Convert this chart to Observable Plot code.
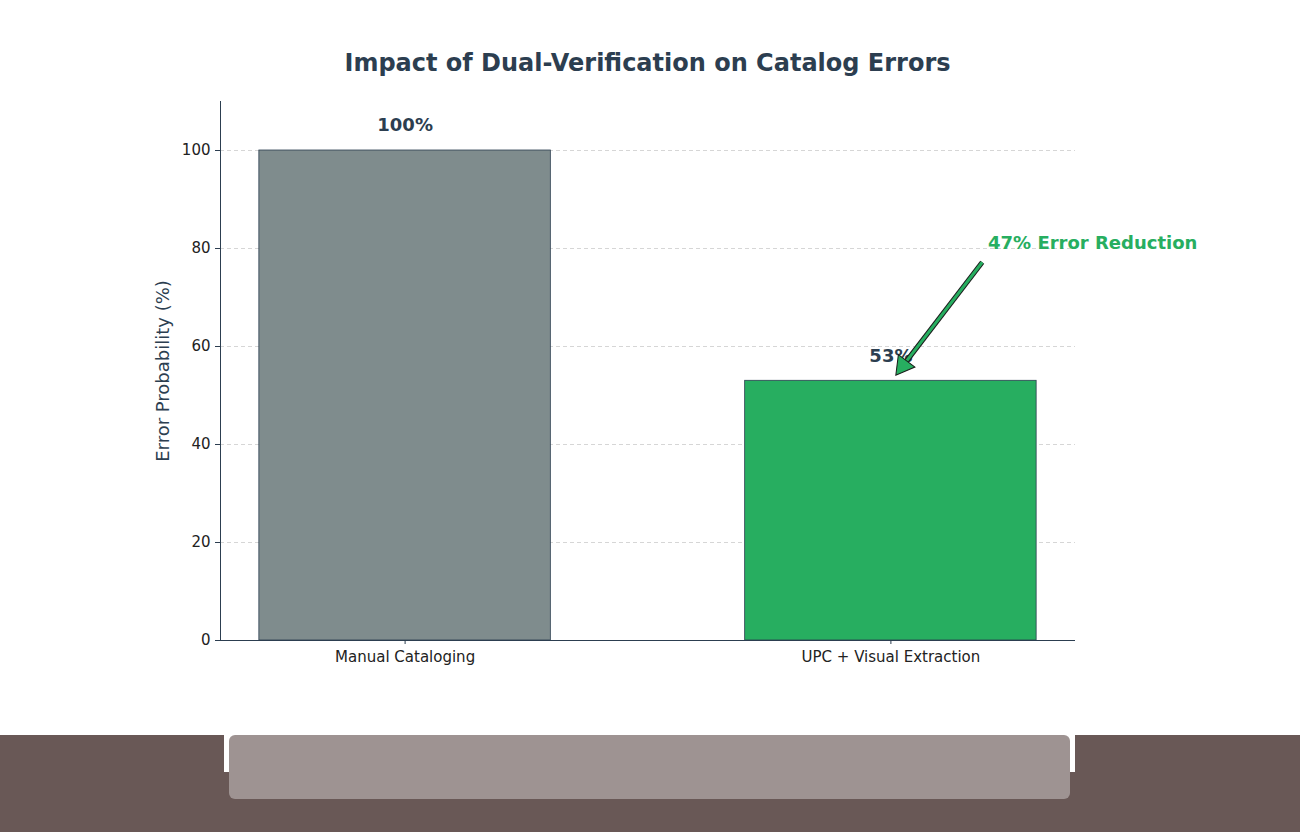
<!DOCTYPE html>
<html>
<head>
<meta charset="utf-8">
<script src="https://cdn.jsdelivr.net/npm/d3@7"></script>
<script src="https://cdn.jsdelivr.net/npm/@observablehq/plot@0.6"></script>
<style>
  html, body { margin: 0; padding: 0; background: #fff; width: 1300px; height: 832px; overflow: hidden; position: relative; font-family: "DejaVu Sans", sans-serif; }
  #title { position: absolute; left: 220px; width: 855px; top: 48px; text-align: center; font-size: 24px; line-height: 30px; font-weight: bold; color: #2c3e50; }
  #chart { position: absolute; left: 0; top: 80px; }
  .band { position: absolute; }
</style>
</head>
<body>
<div id="title">Impact of Dual-Verification on Catalog Errors</div>
<div id="chart"></div>
<div class="band" style="left:0;top:735px;width:1300px;height:97px;background:#695856;"></div>
<div class="band" style="left:224px;top:735px;width:851px;height:37px;background:#ffffff;"></div>
<div class="band" style="left:218px;top:735px;width:6px;height:37px;background:#695856;border-top-right-radius:6px;"></div>
<div class="band" style="left:1075px;top:735px;width:6px;height:37px;background:#695856;border-top-left-radius:6px;"></div>
<div class="band" style="left:229px;top:735px;width:841px;height:64px;background:#9e9392;border-radius:6px;"></div>
<script>
const categories = ["Manual Cataloging", "UPC + Visual Extraction"];
const errorRates = [100, 53];
const barLabels = ["100%", "53%"];
const barColors = ["#7f8c8d", "#27ae60"];
const yTicks = [0, 20, 40, 60, 80, 100];
const annotationText = "47% Error Reduction";
const annotationAt = [1.2, 81];
const arrowStart = [1.188, 77.2];
const arrowHead = [1.025, 56.1];

const bars = categories.map((c, i) => ({i, category: c, value: errorRates[i], label: barLabels[i], color: barColors[i]}));

const plot = Plot.plot({
  width: 1300,
  height: 655,
  marginLeft: 220,
  marginRight: 225,
  marginTop: 21,
  marginBottom: 95,
  style: {fontFamily: "DejaVu Sans, sans-serif", background: "transparent"},
  x: {domain: [-0.38, 1.38]},
  y: {domain: [0, 110]},
  color: {type: "identity"},
  marks: [
    Plot.gridY(yTicks.filter(t => t > 0), {stroke: "#cccccc", strokeOpacity: 1, strokeDasharray: "4,3", strokeWidth: 0.8}),
    Plot.rectY(bars, {x1: d => d.i - 0.3, x2: d => d.i + 0.3, y1: 0, y2: "value", fill: "color", stroke: "#2c3e50", strokeWidth: 0.8}),
    Plot.ruleX([-0.38], {y1: 0, y2: 110, stroke: "#2c3e50", strokeWidth: 1}),
    Plot.ruleY([0], {stroke: "#2c3e50", strokeWidth: 1}),
    Plot.axisY({ticks: yTicks, tickSize: 5, tickPadding: 5, fontSize: 15, color: "#222", label: null, stroke: "#2c3e50"}),
    Plot.axisX({ticks: [0, 1], tickFormat: i => categories[i], tickSize: 4, tickPadding: 7, fontSize: 15, color: "#222", label: null, stroke: "#2c3e50"}),
    Plot.text(["Error Probability (%)"], {frameAnchor: "left", textAnchor: "middle", dx: -57, rotate: -90, fontSize: 18, fill: "#2c3e50"}),
    Plot.text(bars, {x: "i", y: "value", text: "label", dy: -25, fontSize: 18, fontWeight: "bold", fill: "#2c3e50"}),
    Plot.link([{x1: arrowStart[0], y1: arrowStart[1], x2: arrowHead[0], y2: arrowHead[1]}], {x1: "x1", y1: "y1", x2: "x2", y2: "y2", stroke: "#1a1a1a", strokeWidth: 5}),
    Plot.link([{x1: arrowStart[0], y1: arrowStart[1], x2: arrowHead[0], y2: arrowHead[1]}], {x1: "x1", y1: "y1", x2: "x2", y2: "y2", stroke: "#27ae60", strokeWidth: 3}),
    Plot.dot([{x: arrowHead[0], y: arrowHead[1]}], {x: "x", y: "y", symbol: "triangle", r: 7.7, fill: "#27ae60", stroke: "#1a1a1a", strokeWidth: 1, rotate: 217}),
    Plot.text([annotationText], {x: annotationAt[0], y: annotationAt[1], textAnchor: "start", fontSize: 18, fontWeight: "bold", fill: "#27ae60"})
  ]
});
document.getElementById("chart").appendChild(plot);
</script>
</body>
</html>
